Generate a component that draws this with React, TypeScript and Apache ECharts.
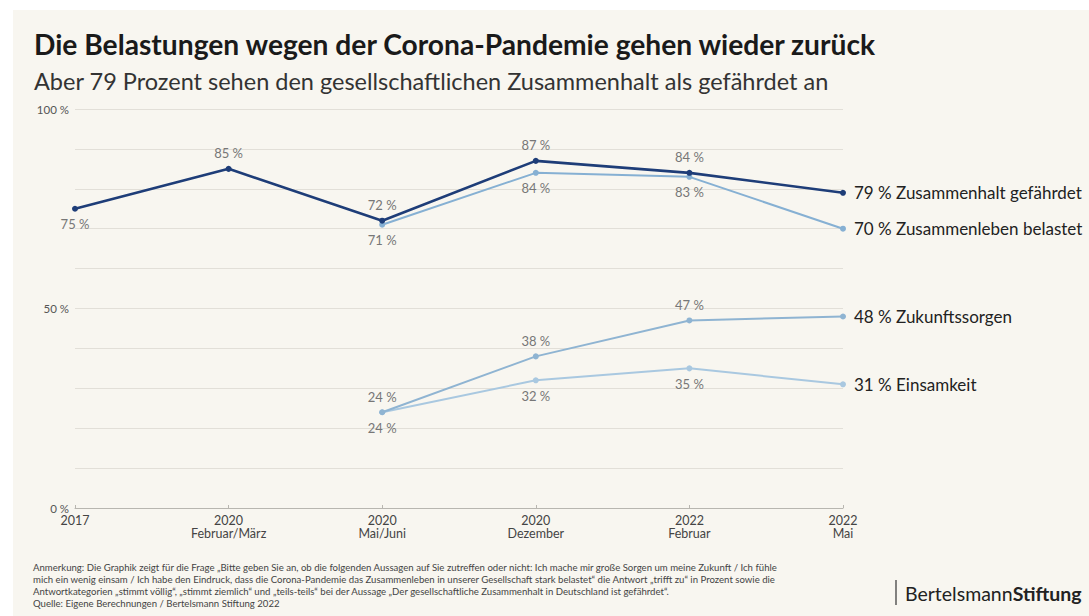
import React, { useEffect, useRef } from "react";
import * as echarts from "echarts";

const categories = ["2017\n ", "2020\nFebruar/März", "2020\nMai/Juni", "2020\nDezember", "2022\nFebruar", "2022\nMai"];
const zusammenhalt = [75, 85, 72, 87, 84, 79];
const zusammenleben = [null, null, 71, 84, 83, 70];
const zukunft = [null, null, 24, 38, 47, 48];
const einsamkeit = [null, null, 24, 32, 35, 31];

const seriesNames = ["Zusammenhalt gefährdet", "Zusammenleben belastet", "Zukunftssorgen", "Einsamkeit"];
const seriesColors = ["#1e3d78", "#86b0d3", "#8fb4d2", "#a9c8e0"];
// label placement for each point: "top" or "bottom"
const labelPos = [
  ["bottom", "top", "top", "top", "top", "right"],
  [null, null, "bottom", "bottom", "bottom", "right"],
  [null, null, "top", "top", "top", "right"],
  [null, null, "bottom", "bottom", "bottom", "right"],
];

const title = "Die Belastungen wegen der Corona-Pandemie gehen wieder zurück";
const subtitle = "Aber 79 Prozent sehen den gesellschaftlichen Zusammenhalt als gefährdet an";
const noteLines = [
  "Anmerkung: Die Graphik zeigt für die Frage „Bitte geben Sie an, ob die folgenden Aussagen auf Sie zutreffen oder nicht: Ich mache mir große Sorgen um meine Zukunft / Ich fühle",
  "mich ein wenig einsam / Ich habe den Eindruck, dass die Corona-Pandemie das Zusammenleben in unserer Gesellschaft stark belastet“ die Antwort „trifft zu“ in Prozent sowie die",
  "Antwortkategorien „stimmt völlig“, „stimmt ziemlich“ und „teils-teils“ bei der Aussage „Der gesellschaftliche Zusammenhalt in Deutschland ist gefährdet“.",
  "Quelle: Eigene Berechnungen / Bertelsmann Stiftung 2022",
];

const FONT = "Lato, 'Noto Sans', sans-serif";

export default function App() {
  const ref = useRef<HTMLDivElement>(null);
  useEffect(() => {
    document.body.style.margin = "0";
    const chart = echarts.init(ref.current!, undefined, { renderer: "svg" });
    const allData = [zusammenhalt, zusammenleben, zukunft, einsamkeit];
    const series = allData.map((arr, si) => ({
      type: "line",
      name: seriesNames[si],
      z: 10 - si,
      data: arr.map((v, i) => {
        if (v === null) return null;
        const pos = labelPos[si][i];
        const isEnd = i === arr.length - 1;
        return {
          value: v,
          label: isEnd
            ? {
                show: true,
                position: "right",
                distance: 8,
                formatter: `{c} % ${seriesNames[si]}`,
                fontFamily: FONT,
                fontSize: 17,
                color: "#222",
              }
            : {
                show: true,
                position: pos,
                distance: 6,
                formatter: "{c} %",
                fontFamily: FONT,
                fontSize: 13,
                color: "#777",
              },
        };
      }),
      connectNulls: false,
      symbol: "circle",
      symbolSize: 6,
      lineStyle: { color: seriesColors[si], width: si === 0 ? 2.6 : 2 },
      itemStyle: { color: seriesColors[si] },
    }));

    chart.setOption({
      animation: false,
      backgroundColor: "#ffffff",
      grid: { left: 75, right: 246, top: 109, bottom: 108 },
      xAxis: {
        type: "category",
        data: categories,
        boundaryGap: false,
        splitLine: { show: false },
        axisLine: { show: true, lineStyle: { color: "#b8b6b0", width: 1 } },
        axisTick: { show: true, inside: true, length: 3, lineStyle: { color: "#b8b6b0" } },
        axisLabel: {
          fontFamily: FONT,
          fontSize: 12.5,
          color: "#444",
          lineHeight: 13,
          margin: 6,
        },
      },
      yAxis: {
        type: "value",
        min: 0,
        max: 100,
        interval: 10,
        axisLine: { show: false },
        axisTick: { show: false },
        splitLine: { lineStyle: { color: "#e2dfd8", width: 1 } },
        axisLabel: {
          fontFamily: FONT,
          fontSize: 11.5,
          color: "#555",
          margin: 6,
          formatter: (v: number) => (v % 50 === 0 ? `${v} %` : ""),
        },
      },
      graphic: [
        {
          type: "rect",
          z: -10,
          silent: true,
          shape: { x: 13, y: 10, width: 1076, height: 606 },
          style: { fill: "#f8f6f0" },
        },
        {
          type: "text",
          x: 34,
          y: 44,
          style: {
            text: title,
            fontFamily: FONT,
            fontWeight: "bold",
            fontSize: 28.2,
            fill: "#1a1a1a",
            verticalAlign: "middle",
          },
        },
        {
          type: "text",
          x: 34,
          y: 81,
          style: {
            text: subtitle,
            fontFamily: FONT,
            fontSize: 23.5,
            fill: "#333",
            verticalAlign: "middle",
          },
        },
        ...noteLines.map((t, i) => ({
          type: "text",
          x: 33,
          y: 567 + i * 12.3,
          style: {
            text: t,
            fontFamily: FONT,
            fontSize: 9.6,
            fill: "#444",
            verticalAlign: "middle",
          },
        })),
        {
          type: "line",
          shape: { x1: 896, y1: 580, x2: 896, y2: 605 },
          style: { stroke: "#333", lineWidth: 1.2 },
        },
        {
          type: "text",
          x: 905,
          y: 593,
          style: {
            text: "{a|Bertelsmann}{b|Stiftung}",
            rich: {
              a: { fontFamily: FONT, fontSize: 19.5, fill: "#222", fontWeight: "normal" },
              b: { fontFamily: FONT, fontSize: 19.5, fill: "#222", fontWeight: "bold" },
            },
            verticalAlign: "middle",
          },
        },
      ],
      series,
    });
    return () => chart.dispose();
  }, []);
  return <div ref={ref} style={{ width: 1089, height: 616 }} />;
}
